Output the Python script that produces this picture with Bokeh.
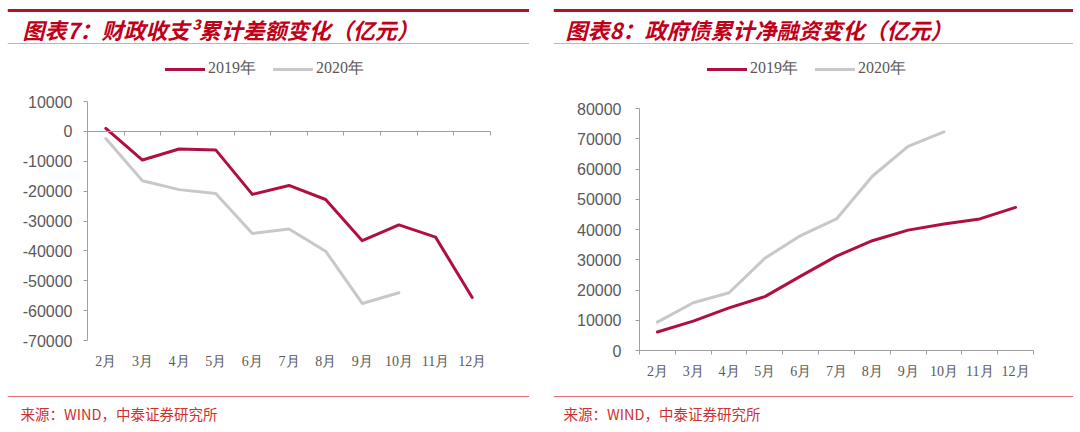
from bokeh.plotting import figure
from bokeh.layouts import row
from bokeh.models import (Span, Label, LinearAxis, FixedTicker, Range1d, Legend, LegendItem,
                          NumeralTickFormatter, Spacer)
from bokeh.embed import file_html
from bokeh.resources import INLINE

months = ["2月", "3月", "4月", "5月", "6月", "7月", "8月", "9月", "10月", "11月", "12月"]

# chart 7: fiscal gap, cumulative (100m yuan)
gap_2019 = [1000, -9600, -5900, -6200, -21100, -18100, -22800, -36600, -31300, -35400, -55600]
gap_2020 = [-2400, -16500, -19500, -20800, -34200, -32700, -40100, -57600, -54000]
gap_ticks = [-70000, -60000, -50000, -40000, -30000, -20000, -10000, 0, 10000]

# chart 8: government bond net financing, cumulative (100m yuan)
bond_2019 = [6100, 9700, 14100, 17800, 24600, 31200, 36300, 39800, 41800, 43500, 47300]
bond_2020 = [9400, 15800, 19100, 30500, 38000, 43500, 57600, 67500, 72300]
bond_ticks = [0, 10000, 20000, 30000, 40000, 50000, 60000, 70000, 80000]

titles = ["图表7：财政收支³累计差额变化（亿元）", "图表8：政府债累计净融资变化（亿元）"]
source = "来源：WIND，中泰证券研究所"
series_names = ["2019年", "2020年"]

RED = "#B0103F"
GREY = "#C8C8C8"
AXIS = "#A0A0A0"
LABEL = "#595959"
CJK = "Noto Sans CJK SC"
H = 430


def panel(width, box, title, yticks, s2019, s2020, title_x, legend_x, src_x, y_standoff):
    # box = pixel area (left, right, top, bottom) that the data fills inside this panel
    bl, br, bt, bb = box
    x0, x1 = 0.5, len(months) + 0.5
    y0, y1 = yticks[0], yticks[-1]
    kx = (x1 - x0) / (br - bl)
    ky = (y1 - y0) / (bb - bt)
    xs, xe = x0 - bl * kx, x1 + (width - br) * kx
    ys, ye = y0 - (H - bb) * ky, y1 + bt * ky

    def X(px):
        return xs + px * kx

    def Y(py):
        return ye - py * ky

    p = figure(width=width, height=H, toolbar_location=None, output_backend="svg",
               x_range=Range1d(xs, xe), y_range=Range1d(ys, ye),
               x_axis_location=None, y_axis_location=None, min_border=0, title=None)
    p.outline_line_color = None
    p.grid.visible = False

    # header and footer rules, title and source
    p.add_layout(Span(location=Y(10), dimension="width", line_color="#B8101E", line_width=3))
    p.add_layout(Span(location=Y(43), dimension="width", line_color="#D8AAAA", line_width=1))
    p.add_layout(Span(location=Y(396), dimension="width", line_color="#E27070", line_width=1))
    p.add_layout(Label(x=X(title_x), y=Y(28), text=title, text_font=CJK,
                       text_font_style="bold italic", text_font_size="22px",
                       text_color="#C00018", text_baseline="middle"))
    p.add_layout(Label(x=X(src_x), y=Y(413), text=source, text_font=CJK,
                       text_font_size="14.5px", text_color="#D03030", text_baseline="middle"))

    yaxis = LinearAxis(ticker=FixedTicker(ticks=yticks), formatter=NumeralTickFormatter(format="0"),
                       fixed_location=x0, bounds=(y0, y1))
    yaxis.axis_line_color = AXIS
    yaxis.major_tick_line_color = AXIS
    yaxis.major_tick_in = 0
    yaxis.major_tick_out = 4
    yaxis.minor_tick_line_color = None
    yaxis.major_label_standoff = y_standoff
    yaxis.major_label_text_font = "Liberation Sans"
    yaxis.major_label_text_font_size = "16px"
    yaxis.major_label_text_color = LABEL
    p.add_layout(yaxis, "left")

    # month labels along the bottom of the value range
    xlab = LinearAxis(ticker=FixedTicker(ticks=list(range(1, len(months) + 1))),
                      major_label_overrides={i + 1: m for i, m in enumerate(months)},
                      fixed_location=y0)
    xlab.axis_line_color = None
    xlab.major_tick_line_color = None
    xlab.major_tick_out = 0
    xlab.minor_tick_line_color = None
    xlab.major_label_standoff = 13
    xlab.major_label_text_font = "Liberation Serif"
    xlab.major_label_text_font_size = "14px"
    xlab.major_label_text_color = LABEL
    p.add_layout(xlab, "below")

    # category axis through zero, ticks between categories
    xtick = LinearAxis(ticker=FixedTicker(ticks=[], minor_ticks=[i + 0.5 for i in range(len(months) + 1)]),
                       fixed_location=0, bounds=(x0, x1))
    xtick.axis_line_color = AXIS
    xtick.major_tick_line_color = None
    xtick.major_tick_out = 0
    xtick.minor_tick_line_color = AXIS
    xtick.minor_tick_in = 0
    xtick.minor_tick_out = 4
    p.add_layout(xtick, "below")

    r20 = p.line(list(range(1, len(s2020) + 1)), s2020, line_color=GREY, line_width=3,
                 line_join="round", line_cap="round")
    r19 = p.line(list(range(1, len(s2019) + 1)), s2019, line_color=RED, line_width=3,
                 line_join="round", line_cap="round")

    legend = Legend(items=[LegendItem(label=series_names[0], renderers=[r19]),
                           LegendItem(label=series_names[1], renderers=[r20])],
                    orientation="horizontal", location=(legend_x, H - 79),
                    padding=0, margin=0, spacing=17, label_standoff=3,
                    glyph_width=40, glyph_height=16, label_height=16,
                    border_line_color=None, background_fill_alpha=0,
                    label_text_font="Liberation Serif", label_text_font_size="16px",
                    label_text_color=LABEL)
    p.add_layout(legend, "center")
    return p


# panels sit at page x 7..529 and 553..1073
left = panel(522, (80, 483, 101, 340), titles[0], gap_ticks, gap_2019, gap_2020, 15, 158, 13, 11)
right = panel(520, (86, 480, 108, 350), titles[1], bond_ticks, bond_2019, bond_2020, 12, 154, 10, 14)

layout = row(Spacer(width=7, height=H), left, Spacer(width=24, height=H), right)

open("out.html", "w").write(file_html(layout, INLINE))
